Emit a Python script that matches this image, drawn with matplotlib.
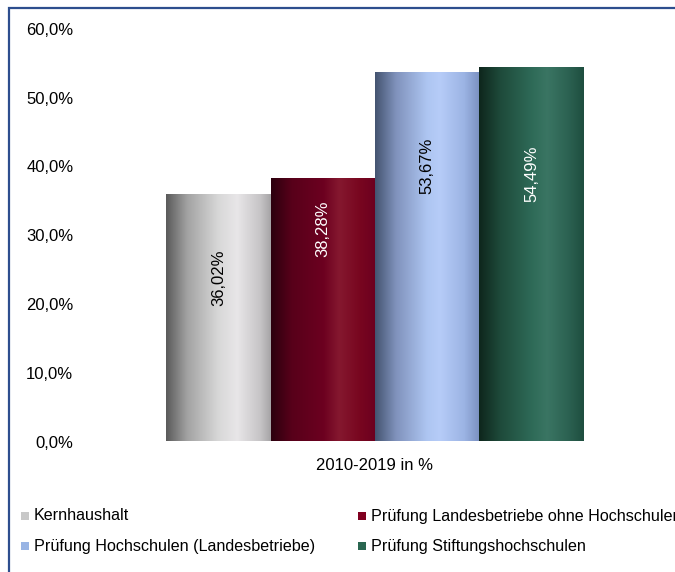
import matplotlib.pyplot as plt
import numpy as np
from matplotlib.colors import LinearSegmentedColormap
from matplotlib.patches import Rectangle

plt.rcParams["font.family"] = ["Liberation Sans", "DejaVu Sans"]

series = ["Kernhaushalt", "Prüfung Landesbetriebe ohne Hochschulen",
          "Prüfung Hochschulen (Landesbetriebe)", "Prüfung Stiftungshochschulen"]
values = [36.02, 38.28, 53.67, 54.49]
value_labels = ["36,02%", "38,28%", "53,67%", "54,49%"]
category = "2010-2019 in %"
yticks = [0, 10, 20, 30, 40, 50, 60]
ytick_labels = ["0,0%", "10,0%", "20,0%", "30,0%", "40,0%", "50,0%", "60,0%"]

# styling
legend_colors = ["#c8c8c8", "#800020", "#98b4e4", "#2a6650"]
gradients = [
    [(0, "#5a5a5a"), (0.2, "#a2a2a2"), (0.5, "#d8d8d8"), (0.68, "#e8e6e8"), (0.9, "#c6c4c6"), (1, "#a6a4a6")],
    [(0, "#2c000e"), (0.2, "#58001a"), (0.5, "#6c0020"), (0.65, "#85182f"), (0.85, "#78061f"), (1, "#6c0020")],
    [(0, "#445470"), (0.2, "#8092bc"), (0.5, "#aec6f2"), (0.62, "#b6ccf8"), (0.85, "#9cb4e4"), (1, "#7a90c0")],
    [(0, "#0e261c"), (0.2, "#1e4a3a"), (0.5, "#2e6a57"), (0.65, "#3a7563"), (0.85, "#2c6252"), (1, "#1e4e3f")],
]
label_colors = ["black", "white", "black", "white"]
label_y = [23.8, 30.9, 40.1, 38.9]
# legend slots (pixels): marker left x, row centre y
legend_pos = [(21, 516), (358, 516), (21, 546), (358, 546)]

W, H = 675, 572
fig = plt.figure(figsize=(W / 100, H / 100), dpi=100)
ax = fig.add_axes([90 / W, 1 - 441.5 / H, 570 / W, 412.7 / H])

x = np.arange(len(values)) - 1.5
bars = ax.bar(x, values, width=1.0, color="none", edgecolor="none")

for bar, stops, val, lab, lc, ly in zip(bars, gradients, values, value_labels, label_colors, label_y):
    cmap = LinearSegmentedColormap.from_list("g", stops)
    grad = np.linspace(0, 1, 256).reshape(1, -1)
    bx, bw = bar.get_x(), bar.get_width()
    im = ax.imshow(grad, cmap=cmap, aspect="auto", extent=(bx, bx + bw, 0, val), zorder=2)
    im.set_clip_path(bar)
    ax.text(bx + bw / 2, ly, lab, rotation=90, ha="center", va="center",
            color=lc, fontsize=12, zorder=3)

ax.set_xlim(-2.73, 2.73)
ax.set_ylim(0, 60)
ax.set_yticks(yticks)
ax.set_yticklabels(ytick_labels, fontsize=12)
ax.set_xticks([0])
ax.set_xticklabels([category], fontsize=12)
ax.tick_params(axis="y", length=0, pad=12)
ax.tick_params(axis="x", length=0, pad=12)
for s in ax.spines.values():
    s.set_visible(False)

# legend, laid out row by row
for name, c, (px, py) in zip(series, legend_colors, legend_pos):
    fig.add_artist(Rectangle((px / W, 1 - (py + 4) / H), 8 / W, 8 / H,
                             transform=fig.transFigure, facecolor=c, edgecolor="none"))
    fig.text((px + 13) / W, 1 - py / H, name, fontsize=11.6, va="center", ha="left")

# frame around the chart
fig.add_artist(Rectangle((9 / W, -0.05), 1.2, 1 - 8 / H + 0.05, transform=fig.transFigure,
                         fill=False, edgecolor="#2d4e8e", linewidth=1.6))

fig.savefig("out.png", dpi=100)
